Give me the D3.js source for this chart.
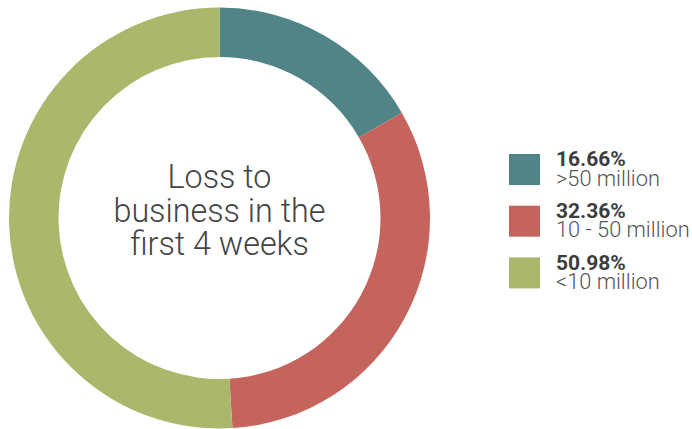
<!DOCTYPE html>
<html>
<head>
<meta charset="utf-8">
<script src="https://cdn.jsdelivr.net/npm/d3@7"></script>
<style>
  html, body { margin: 0; padding: 0; background: #fff; }
  svg { display: block; font-family: Roboto, "Noto Sans", sans-serif; }
</style>
</head>
<body>
<svg id="chart" width="692" height="429"></svg>
<script>
// Loss to business in the first 4 weeks — share of respondents by loss band
const categories = [">50 million", "10 - 50 million", "<10 million"];
const shares = [16.66, 32.36, 50.98];
const shareLabels = ["16.66%", "32.36%", "50.98%"];
const colors = ["#518487", "#c5645d", "#abb76b"];
const centerTitle = ["Loss to", "business in the", "first 4 weeks"];

const svg = d3.select("#chart");
const cx = 219.5, cy = 218, outerR = 210.5, innerR = 161;

const data = categories.map((c, i) => ({ category: c, value: shares[i], label: shareLabels[i], color: colors[i] }));

const pie = d3.pie().value(d => d.value).sort(null);
const arc = d3.arc().innerRadius(innerR).outerRadius(outerR);

const ring = svg.append("g").attr("transform", `translate(${cx},${cy})`);
ring.selectAll("path")
  .data(pie(data))
  .join("path")
  .attr("d", arc)
  .attr("fill", d => d.data.color);

// centre title
const title = ring.append("text")
  .attr("text-anchor", "middle")
  .attr("fill", "#444")
  .style("font-size", "32.3px")
  .style("font-weight", 300);
centerTitle.forEach((line, i) => {
  title.append("tspan")
    .attr("x", 0)
    .attr("y", -30 + i * 33.5)
    .text(line);
});

// legend
const legend = svg.append("g").attr("transform", "translate(509,154)");
const item = legend.selectAll("g")
  .data(data)
  .join("g")
  .attr("transform", (d, i) => `translate(0,${i * 51.7})`);

item.append("rect")
  .attr("width", 31)
  .attr("height", 31)
  .attr("fill", d => d.color);

item.append("text")
  .attr("x", 47)
  .attr("y", 12.3)
  .attr("fill", "#3d3d3d")
  .style("font-size", "21px")
  .style("font-weight", 700)
  .text(d => d.label);

item.append("text")
  .attr("x", 47)
  .attr("y", 31.7)
  .attr("fill", "#555")
  .style("font-size", "21.8px")
  .style("font-weight", 300)
  .text(d => d.category);
</script>
</body>
</html>
